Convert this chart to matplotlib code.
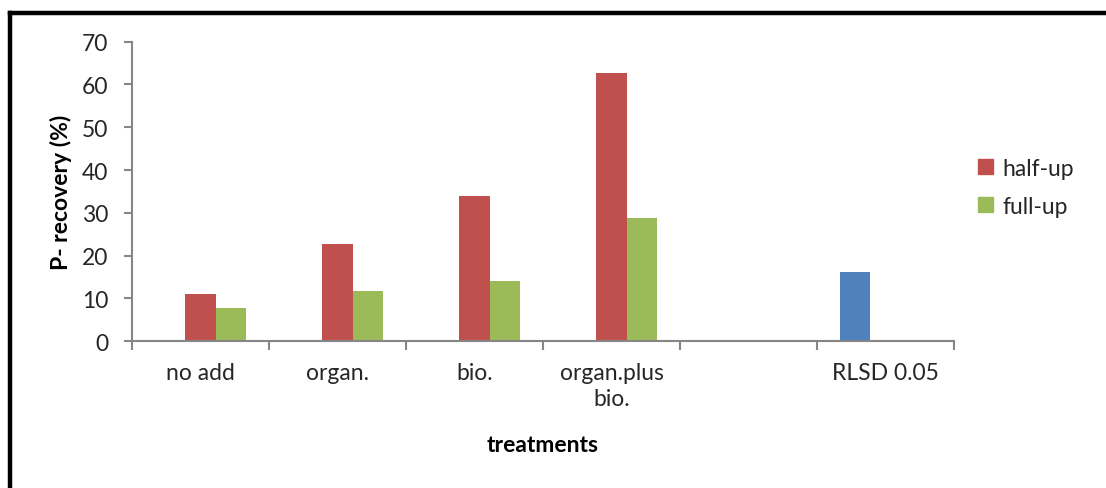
import matplotlib
matplotlib.use("Agg")

import matplotlib.pyplot as plt
import numpy as np
from matplotlib.lines import Line2D
from matplotlib.patches import Patch

plt.rcParams["font.family"] = ["Lato", "DejaVu Sans"]

# data
categories = ["no add", "organ.", "bio.", "organ.plus\nbio.", "", "RLSD 0.05"]
half_up = [11.0, 22.8, 34.0, 62.8, 0, 0]
full_up = [7.8, 11.7, 14.2, 28.7, 0, 0]
rlsd = [0, 0, 0, 0, 0, 16.3]

RED = "#C0504D"
GREEN = "#9BBB59"
BLUE = "#4F81BD"
AXIS = "#868686"
TEXT = "#262626"
FS = 16.5

fig = plt.figure(figsize=(11.06, 4.89), dpi=100)
ax = fig.add_axes([0.1194, 0.300, 0.7432, 0.6127])

x = np.arange(len(categories))
w = 1 / 4.5  # excel clustered bars, 3 series, gap width 150%

ax.bar(x - w, rlsd, w, color=BLUE, edgecolor="none")
ax.bar(x, half_up, w, color=RED, edgecolor="none")
ax.bar(x + w, full_up, w, color=GREEN, edgecolor="none")

ax.set_xlim(-0.5, len(categories) - 0.5)
ax.set_ylim(0, 70)
ax.set_yticks(range(0, 71, 10))

# ticks on category boundaries, labels in the middle
ax.set_xticks(np.arange(-0.5, len(categories), 1))
ax.set_xticklabels([])
ax.set_xticks(x, minor=True)
ax.set_xticklabels(categories, minor=True, linespacing=1.3)
ax.tick_params(axis="x", which="major", length=6.5, width=1.5,
               color=AXIS, direction="out")
ax.tick_params(axis="x", which="minor", length=0, pad=15,
               labelsize=FS, labelcolor=TEXT)
ax.tick_params(axis="y", length=6, width=1.5, color=AXIS, pad=11,
               labelsize=FS, labelcolor=TEXT)

for side in ("top", "right"):
    ax.spines[side].set_visible(False)
for side in ("left", "bottom"):
    ax.spines[side].set_color(AXIS)
    ax.spines[side].set_linewidth(1.5)

ax.set_ylabel("P- recovery (%)", fontsize=FS, fontweight="bold",
              color="black", labelpad=7)
ax.set_xlabel("treatments", fontsize=FS, fontweight="bold",
              color="black", labelpad=18)

handles = [Patch(color=RED, label="half-up"),
           Patch(color=GREEN, label="full-up")]
fig.legend(handles=handles, loc="center left",
           bbox_to_anchor=(0.866, 0.615), frameon=False,
           fontsize=FS, handlelength=0.65, handleheight=0.65,
           handletextpad=0.4, labelspacing=0.75, labelcolor=TEXT)

# thick frame around the chart (top and left edges visible)
fig.add_artist(Line2D([0.009, 1.0], [0.972, 0.972], color="black",
                      lw=3.2, transform=fig.transFigure))
fig.add_artist(Line2D([0.009, 0.009], [0.0, 0.972], color="black",
                      lw=3.2, transform=fig.transFigure))

fig.savefig("out.png", dpi=100)
